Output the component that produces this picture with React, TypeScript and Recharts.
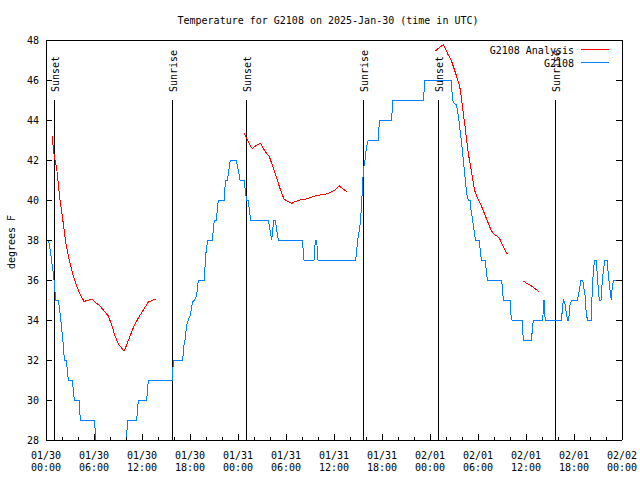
import React from 'react';
import { ComposedChart, Line, Scatter, XAxis, YAxis, ReferenceLine, Legend } from 'recharts';

const FONT = '"DejaVu Sans Mono", monospace';

// G2108 observations: hours since 01/30 00:00 UTC, temperature in F
const obsHours = [
  0, 0.17, 0.42, 0.92, 1.05, 1.21, 1.54, 1.79, 1.92, 2.04,
  2.17, 2.29, 2.54, 2.79, 3.29, 3.54, 4.13, 4.29, 6.04, 6.45,
  9.9, 10.2, 11.33, 11.54, 12.58, 12.79, 15.79, 15.92, 17.08, 17.25,
  17.38, 17.58, 17.79, 18.0, 18.33, 18.54, 18.83, 19.04, 19.79, 19.96,
  20.21, 20.79, 20.92, 21.04, 21.29, 21.54, 22.29, 22.42, 22.67, 23.04,
  23.75, 24.04, 24.25, 24.75, 24.96, 25.08, 25.29, 25.42, 25.58, 27.79,
  28.0, 28.21, 28.33, 28.5, 28.67, 28.83, 29.04, 32.04, 32.25, 33.5,
  33.67, 33.83, 34.0, 38.71, 38.96, 39.17, 39.33, 39.54, 39.67, 39.88,
  40.08, 40.29, 41.54, 41.67, 43.21, 43.33, 47.17, 47.38, 50.63, 50.83,
  51.08, 51.33, 51.54, 51.67, 51.75, 51.96, 52.08, 52.21, 52.33, 52.46,
  52.58, 52.79, 53.0, 53.13, 53.33, 53.5, 53.67, 54.17, 54.33, 54.46,
  54.92, 55.08, 55.2, 56.96, 57.17, 58.0, 58.13, 58.25, 59.5, 59.67,
  60.67, 60.92, 62.08, 62.25, 62.33, 62.46, 64.42, 64.67, 64.83, 65.08,
  65.21, 65.33, 65.5, 65.71, 66.42, 66.67, 66.88, 67.08, 67.38, 67.5,
  67.67, 68.13, 68.29, 68.42, 68.58, 68.75, 68.92, 69.04, 69.17, 69.38,
  69.5, 69.67, 69.88, 70.13, 70.29, 70.5, 70.67, 70.79, 71.0, 72,
];
const obsTemps = [
  38, 38, 37.8, 36.3, 35.8, 35, 35, 34.25, 33.75, 33.25,
  32.75, 32, 32, 31, 31, 30, 30, 29, 29, 27,
  27, 29, 29, 30, 30, 31, 31, 32, 32, 32.75,
  33, 33.75, 34, 34.2, 34.9, 35, 35.2, 36, 36, 37.25,
  38, 38, 38.5, 39, 39, 40, 40, 41, 41, 42,
  42, 41.5, 41, 41, 40.3, 40, 40, 39.5, 39, 39,
  38.5, 38, 38.5, 39, 39, 38.5, 38, 38, 37, 37,
  38, 38, 37, 37, 38, 38.5, 39, 40.5, 41.5, 42,
  42.7, 43, 43, 44, 44, 45, 45, 46, 46, 45,
  44.8, 44.75, 44.17, 43.83, 43.5, 42.83, 42.33, 41.83, 41.33, 40.83,
  40.33, 40, 40, 39.5, 39, 38.5, 38, 38, 37.25, 37,
  37, 36.25, 36, 36, 35, 35, 34.25, 34, 34, 33,
  33, 34, 34, 35, 34.25, 34, 34, 35, 34.9, 34.25,
  34, 34, 34.75, 35, 35, 35.5, 36, 36, 35.25, 34.5,
  34, 34, 35.5, 36.5, 37, 37, 36.25, 35.5, 35, 35,
  35.75, 36.5, 37, 37, 36.25, 35.5, 35, 35.75, 36, 36,
];

// G2108 Analysis (null = gap)
const anaHours = [
  0.79, 0.92, 1.13, 1.33, 1.54, 1.75, 1.96, 2.17, 2.5, 2.79,
  3.08, 3.42, 3.83, 4.25, 4.79, 5.08, 5.42, 5.71, 6.13, 6.75,
  7.38, 7.79, 8.21, 8.63, 9.04, 9.46, 9.75, 10.08, 10.5, 11.0,
  11.54, 12.17, 12.79, 13.42, 13.75, 14,
  24.79, 25.0, 25.29, 25.58, 25.83, 26.33, 26.83, 27.17, 27.58, 27.92,
  28.21, 28.63, 29.04, 29.46, 29.79, 30.29, 30.71, 31.13, 31.75, 32.38,
  33.0, 33.63, 34.25, 34.88, 35.5, 36.13, 36.67, 37.17, 37.67, 38,
  48.71, 49.04, 49.46, 49.67, 49.88, 50.29, 50.71, 51.13, 51.54, 51.75,
  51.96, 52.17, 52.38, 52.58, 52.79, 53.0, 53.21, 53.42, 53.63, 54.04,
  54.46, 54.88, 55.29, 55.63, 55.83, 56.13, 56.46, 56.75, 56.96, 57.17,
  57.38, 57.67, 58.5,
  59.67, 60.08, 60.5, 60.92, 61.33, 61.67,
];
const anaTemps = [
  43.2, 42.5, 42, 41.6, 40.8, 40, 39.4, 38.8, 37.8, 37.2,
  36.7, 36.2, 35.7, 35.3, 34.9, 35.0, 35.0, 35.05, 34.9, 34.7,
  34.4, 34.2, 33.75, 33.2, 32.8, 32.6, 32.45, 32.75, 33.2, 33.7,
  34.1, 34.5, 34.9, 35.0, 35.05, null,
  43.33, 43.17, 42.9, 42.67, 42.58, 42.75, 42.83, 42.58, 42.33, 42.17,
  41.83, 41.33, 40.83, 40.33, 40.03, 39.92, 39.83, 39.92, 40.0, 40.03,
  40.12, 40.2, 40.25, 40.28, 40.37, 40.5, 40.7, 40.53, 40.42, null,
  47.45, 47.58, 47.7, 47.78, 47.58, 47.25, 46.92, 46.42, 45.92, 45.58,
  45.0, 44.33, 43.67, 43.0, 42.33, 41.83, 41.33, 40.83, 40.42, 40.0,
  39.67, 39.25, 38.83, 38.5, 38.37, 38.25, 38.17, 38.03, 37.83, 37.67,
  37.5, 37.3, null,
  35.95, 35.83, 35.75, 35.63, 35.5, 35.42,
];

const seriesNames = ['G2108 Analysis', 'G2108'];

const sunHours = [1.0, 15.8, 25.02, 39.67, 49.05, 63.67];
const sunNames = ['Sunset', 'Sunrise', 'Sunset', 'Sunrise', 'Sunset', 'Sunrise'];
const sunTop = 45;

const minorHours = [
  0, 2, 4, 6, 8, 10, 12, 14, 16, 18, 20, 22, 24, 26, 28, 30, 32, 34, 36,
  38, 40, 42, 44, 46, 48, 50, 52, 54, 56, 58, 60, 62, 64, 66, 68, 70, 72,
];
const majorHours = [0, 6, 12, 18, 24, 30, 36, 42, 48, 54, 60, 66, 72];
const majorDates = ['01/30', '01/30', '01/30', '01/30', '01/31', '01/31', '01/31', '01/31', '02/01', '02/01', '02/01', '02/01', '02/02'];
const majorTimes = ['00:00', '06:00', '12:00', '18:00', '00:00', '06:00', '12:00', '18:00', '00:00', '06:00', '12:00', '18:00', '00:00'];
const yTicks = [28, 30, 32, 34, 36, 38, 40, 42, 44, 46, 48];

const obsData = obsHours.map((h, i) => ({ h, t: obsTemps[i] }));
const anaData = anaHours.map((h, i) => ({ h, t: anaTemps[i] }));
const sunData = sunHours.map((h, i) => ({ h, t: sunTop, label: sunNames[i] }));

const txt = { fontFamily: FONT, fontSize: 10, fill: '#000' };

function BottomTick({ x, y, payload }: any) {
  const i = majorHours.indexOf(payload.value);
  return (
    <g>
      <line x1={x} x2={x} y1={y} y2={y - (i >= 0 ? 6 : 3)} stroke="#000" />
      {i >= 0 && (
        <text x={x} y={y + 19} textAnchor="middle" {...txt}>
          <tspan x={x}>{majorDates[i]}</tspan>
          <tspan x={x} dy={12}>{majorTimes[i]}</tspan>
        </text>
      )}
    </g>
  );
}

function TopTick({ x, y, payload }: any) {
  const major = majorHours.indexOf(payload.value) >= 0;
  return <line x1={x} x2={x} y1={y} y2={y + (major ? 6 : 3)} stroke="#000" />;
}

function LeftTick({ x, y, payload }: any) {
  return (
    <g>
      <line x1={x} x2={x + 6} y1={y} y2={y} stroke="#000" />
      <text x={x - 7} y={y + 3.5} textAnchor="end" {...txt}>{payload.value}</text>
    </g>
  );
}

function RightTick({ x, y }: any) {
  return <line x1={x} x2={x - 6} y1={y} y2={y} stroke="#000" />;
}

function SunLabel({ cx, cy, payload }: any) {
  return (
    <text transform={`translate(${cx + 5}, ${cy - 8}) rotate(-90)`} textAnchor="start" {...txt}>
      {payload.label}
    </text>
  );
}

function LegendBox({ payload }: any) {
  const items = (payload || [])
    .filter((p: any) => p.type !== 'none' && seriesNames.indexOf(p.value) >= 0)
    .sort((a: any, b: any) => seriesNames.indexOf(a.value) - seriesNames.indexOf(b.value));
  return (
    <svg width={640} height={80} style={{ display: 'block', shapeRendering: 'crispEdges' }}>
      {items.map((p: any, i: number) => (
        <g key={p.value}>
          <text x={574} y={54 + i * 12.7} textAnchor="end" {...txt}>{p.value}</text>
          <line x1={581} x2={609} y1={49.5 + i * 12.7} y2={49.5 + i * 12.7} stroke={p.color} />
        </g>
      ))}
    </svg>
  );
}

export default function App() {
  return (
    <div style={{ position: 'absolute', left: 0, top: 0, width: 640, height: 480, background: '#fff', shapeRendering: 'crispEdges' }}>
      <ComposedChart width={640} height={480} margin={{ top: 0, right: 0, bottom: 0, left: 0 }}>
        <XAxis
          xAxisId="b"
          dataKey="h"
          type="number"
          domain={[0, 72]}
          ticks={minorHours}
          interval={0}
          allowDataOverflow
          height={40}
          axisLine={{ stroke: '#000' }}
          tickLine={false}
          tickSize={0}
          tickMargin={0}
          tick={(p: any) => <BottomTick {...p} />}
        />
        <XAxis
          xAxisId="t"
          orientation="top"
          type="number"
          domain={[0, 72]}
          ticks={minorHours}
          interval={0}
          allowDataOverflow
          height={40}
          axisLine={{ stroke: '#000' }}
          tickLine={false}
          tickSize={0}
          tickMargin={0}
          tick={(p: any) => <TopTick {...p} />}
        />
        <YAxis
          yAxisId="l"
          type="number"
          domain={[28, 48]}
          ticks={yTicks}
          interval={0}
          allowDataOverflow
          width={46}
          axisLine={{ stroke: '#000' }}
          tickLine={false}
          tickSize={0}
          tickMargin={0}
          tick={(p: any) => <LeftTick {...p} />}
        />
        <YAxis
          yAxisId="r"
          orientation="right"
          type="number"
          domain={[28, 48]}
          ticks={yTicks}
          interval={0}
          allowDataOverflow
          width={18}
          axisLine={{ stroke: '#000' }}
          tickLine={false}
          tickSize={0}
          tickMargin={0}
          tick={(p: any) => <RightTick {...p} />}
        />
        {sunHours.map((h, i) => (
          <ReferenceLine
            key={i}
            xAxisId="b"
            yAxisId="l"
            segment={[{ x: h, y: 28 }, { x: h, y: sunTop }]}
            stroke="#000"
            strokeWidth={1}
            ifOverflow="visible"
          />
        ))}
        <Line
          xAxisId="b"
          yAxisId="l"
          data={anaData}
          dataKey="t"
          name={seriesNames[0]}
          type="linear"
          stroke="#ff0000"
          strokeWidth={1}
          dot={false}
          connectNulls={false}
          isAnimationActive={false}
        />
        <Line
          xAxisId="b"
          yAxisId="l"
          data={obsData}
          dataKey="t"
          name={seriesNames[1]}
          type="linear"
          stroke="#0080ff"
          strokeWidth={1}
          dot={false}
          isAnimationActive={false}
        />
        <Scatter
          xAxisId="b"
          yAxisId="l"
          data={sunData}
          dataKey="t"
          legendType="none"
          shape={(p: any) => <SunLabel {...p} />}
          isAnimationActive={false}
        />
        <Legend
          layout="horizontal"
          align="center"
          verticalAlign="middle"
          wrapperStyle={{ top: 0, left: 0, width: 640, pointerEvents: 'none' }}
          content={(p: any) => <LegendBox {...p} />}
        />
      </ComposedChart>
      <svg width={640} height={480} style={{ position: 'absolute', left: 0, top: 0, pointerEvents: 'none' }}>
        <text x={328} y={24} textAnchor="middle" {...txt}>
          Temperature for G2108 on 2025-Jan-30 (time in UTC)
        </text>
        <text transform="translate(14.5, 242) rotate(-90)" textAnchor="middle" {...txt}>
          degrees F
        </text>
      </svg>
    </div>
  );
}
